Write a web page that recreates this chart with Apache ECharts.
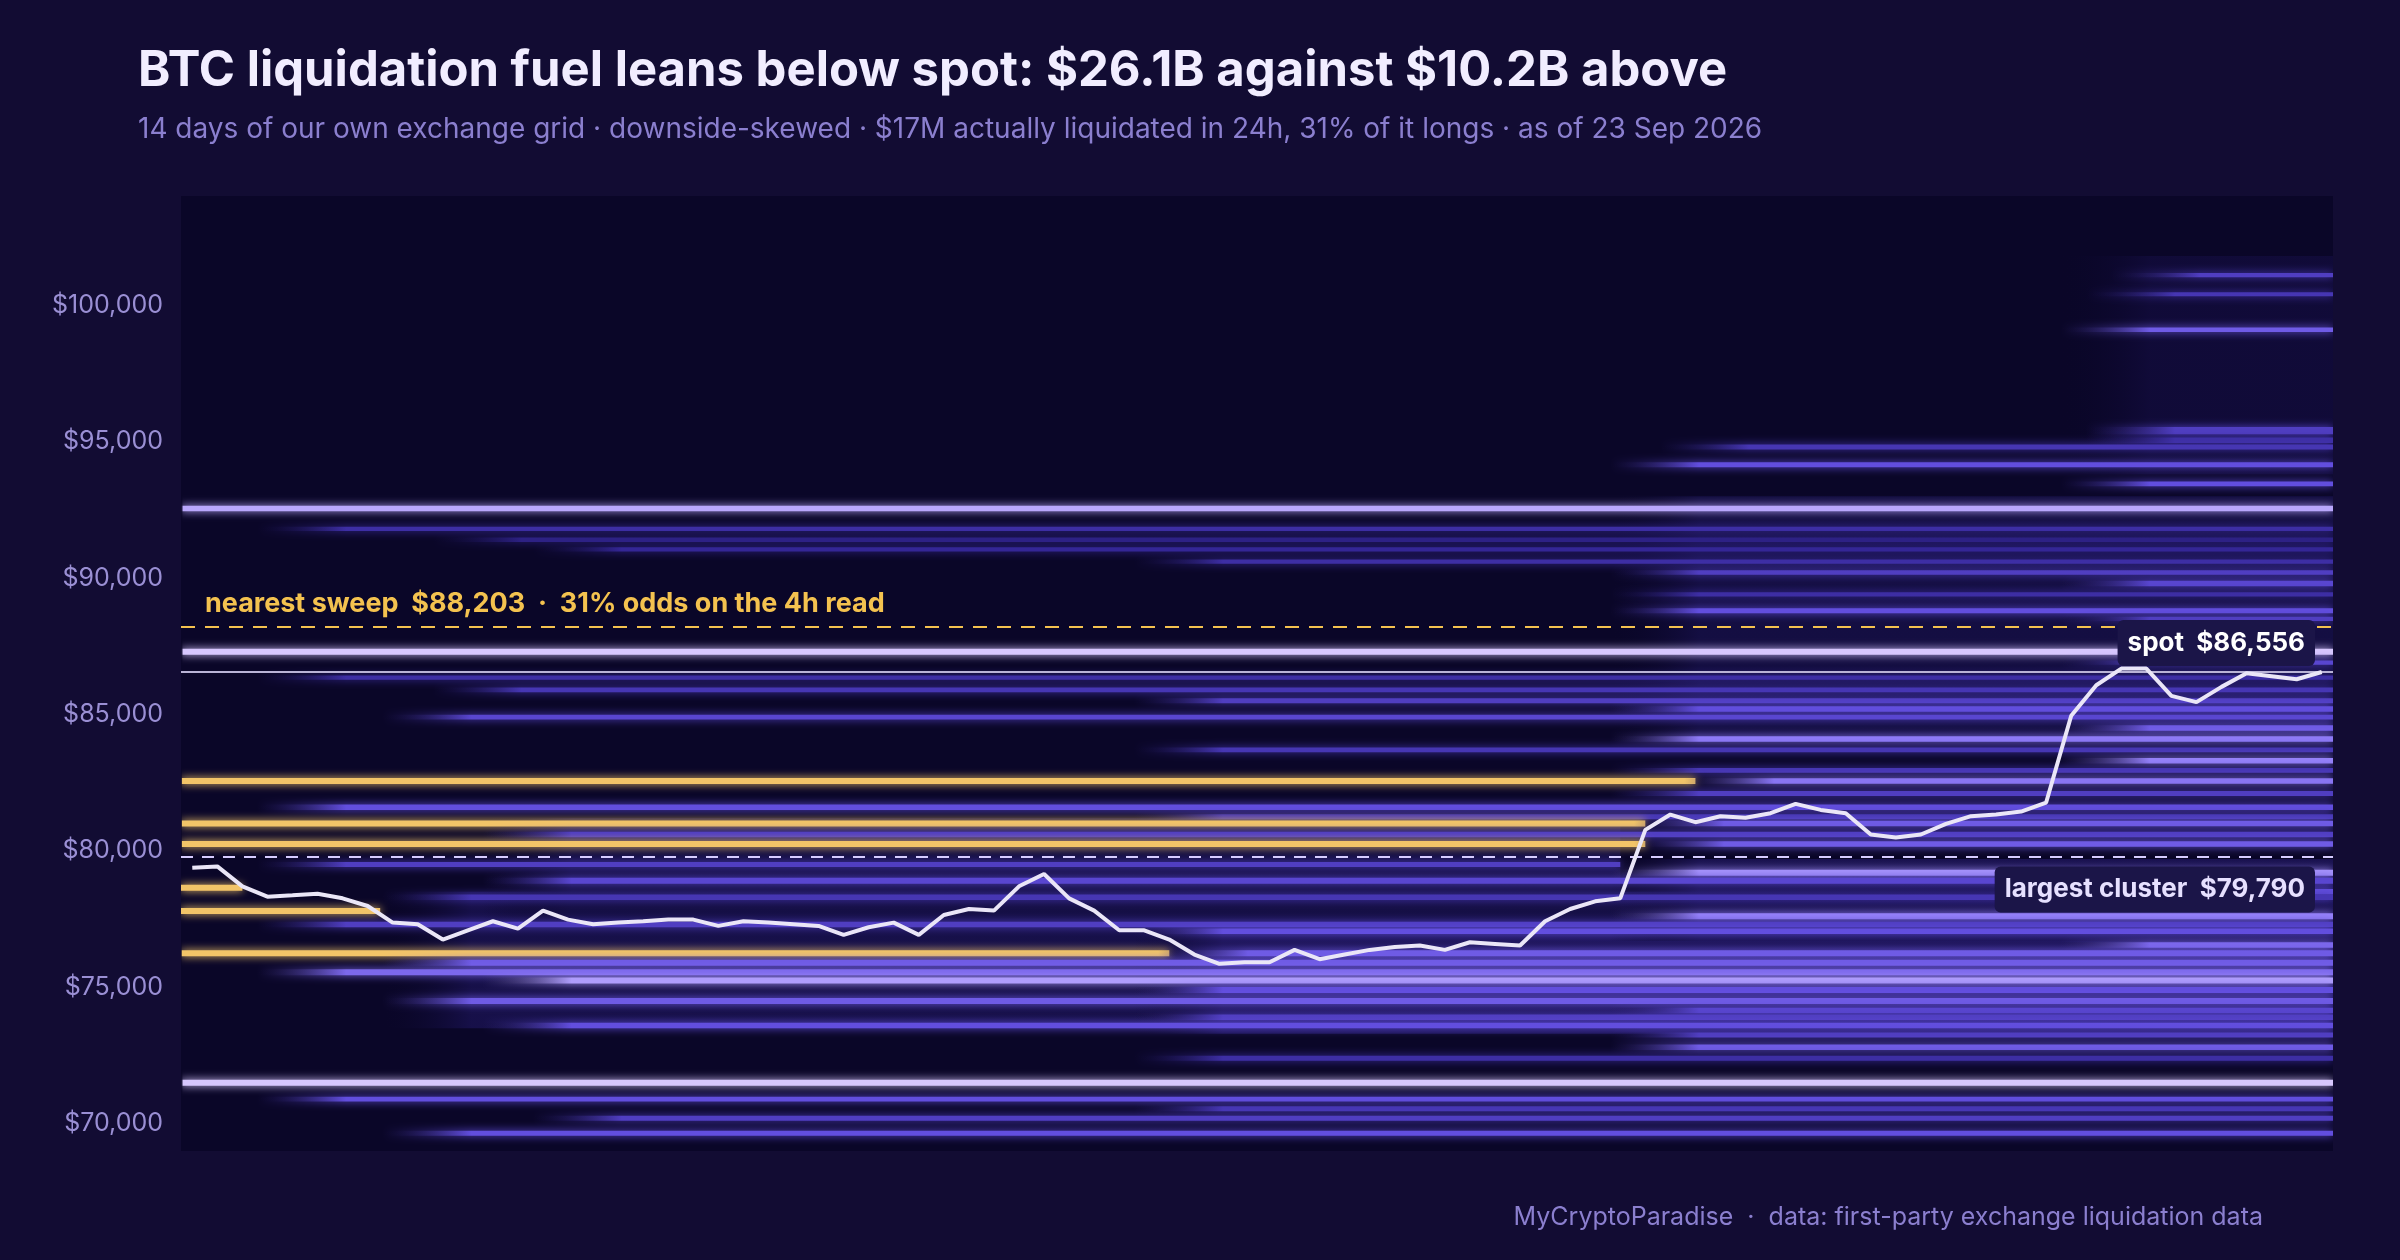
<!DOCTYPE html>
<html>
<head>
<meta charset="utf-8">
<script src="https://cdn.jsdelivr.net/npm/echarts@6/dist/echarts.min.js"></script>
<style>
  html, body { margin: 0; padding: 0; background: #120c33; }
  #chart { width: 2400px; height: 1260px; }
</style>
</head>
<body>
<div id="chart"></div>
<script>
// spot price every 4h over 14 days
var spotPrice = [79380, 79430, 78700, 78320, 78370, 78430, 78260, 77980, 77370, 77310,
  76750, 77090, 77420, 77150, 77810, 77480, 77310, 77370, 77420, 77480,
  77480, 77250, 77420, 77370, 77310, 77250, 76920, 77200, 77370, 76920,
  77650, 77870, 77810, 78700, 79150, 78260, 77810, 77090, 77090, 76750,
  76200, 75860, 75920, 75920, 76370, 76030, 76200, 76370, 76480, 76530,
  76370, 76650, 76590, 76530, 77420, 77870, 78150, 78260, 80770, 81330,
  81050, 81270, 81210, 81380, 81720, 81500, 81380, 80600, 80490, 80600,
  80990, 81270, 81330, 81440, 81770, 84950, 86070, 86680, 86680, 85680,
  85450, 86010, 86510, 86400, 86290, 86556];

// liquidation bands: [price, start index, end index, intensity (1 = hot), thickness in $]
// end 99 = runs to the right edge
var bands = [
  // haze
  [76000, 8, 99, 0.10, 5000], [75200, 38, 99, 0.14, 3800], [88500, 57, 99, 0.08, 9000],
  [97800, 75, 99, 0.05, 8000], [79200, 12, 57, 0.08, 4000], [78200, 57, 99, 0.12, 3000],
  // top
  [101100, 77, 99, 0.45, 150], [100400, 76, 99, 0.4, 150], [99100, 75, 99, 0.6, 160],
  [95400, 76, 99, 0.45, 260], [95050, 76, 99, 0.35, 200], [94800, 59, 99, 0.4, 180],
  [94150, 57, 99, 0.55, 180], [93450, 75, 99, 0.55, 180],
  [92550, 0, 99, 0.82, 200],
  [91800, 3, 99, 0.35, 160], [91400, 10, 99, 0.25, 160], [91050, 14, 99, 0.3, 160],
  [90600, 38, 99, 0.35, 160], [90200, 57, 99, 0.45, 160], [89800, 75, 99, 0.5, 200],
  [89400, 57, 99, 0.35, 160], [88800, 57, 99, 0.55, 180], [88500, 75, 99, 0.45, 160],
  [87300, 0, 99, 0.88, 220], [86900, 75, 99, 0.5, 160],
  [86350, 3, 99, 0.35, 150], [85900, 10, 99, 0.4, 180], [85500, 38, 99, 0.45, 180],
  [85200, 57, 99, 0.55, 200], [84900, 8, 99, 0.5, 180], [84500, 75, 99, 0.6, 200],
  [84100, 57, 99, 0.72, 200], [83700, 38, 99, 0.4, 180], [83300, 75, 99, 0.75, 200],
  [82950, 57, 99, 0.4, 180],
  [82560, 0, 60, 1, 220], [82560, 60, 99, 0.7, 200],
  [82100, 57, 99, 0.45, 180], [81600, 3, 99, 0.55, 200], [81250, 38, 99, 0.4, 180],
  [81000, 0, 58, 1, 220], [81000, 58, 99, 0.6, 200],
  [80600, 12, 99, 0.45, 200],
  [80250, 0, 58, 1, 220], [80250, 58, 99, 0.6, 200],
  [79200, 57, 99, 0.78, 220], [79500, 3, 57, 0.45, 180], [78900, 12, 99, 0.5, 220],
  [78650, 0, 2, 1, 220], [78500, 75, 99, 0.55, 200], [78300, 8, 99, 0.4, 200],
  [77800, 0, 7.5, 1, 220], [77600, 57, 99, 0.75, 220], [77300, 3, 99, 0.45, 200],
  [77050, 38, 99, 0.55, 200], [76550, 75, 99, 0.65, 200],
  [76250, 0, 39, 1, 220], [76250, 39, 99, 0.6, 220],
  [75900, 8, 99, 0.6, 220], [75550, 3, 99, 0.65, 220], [75250, 12, 99, 0.8, 220],
  [74900, 38, 99, 0.55, 220], [74500, 8, 99, 0.6, 220], [74150, 57, 99, 0.5, 200],
  [73900, 38, 99, 0.45, 200], [73600, 12, 99, 0.55, 200], [73250, 57, 99, 0.45, 180],
  [72800, 57, 99, 0.6, 200], [72400, 38, 99, 0.35, 180],
  [71500, 0, 99, 0.88, 220], [70900, 3, 99, 0.55, 180], [70550, 38, 99, 0.4, 180],
  [70200, 14, 99, 0.45, 180], [69650, 8, 99, 0.55, 180]
];

var yTicks = [70000, 75000, 80000, 85000, 90000, 95000, 100000];
var spotNow = 86556;
var nearestSweep = 88203;
var largestCluster = 79790;

var xMax = spotPrice.length - 1 + 0.45;

function bandColor(v) {
  if (v >= 1) return '#f2c468';
  var stops = [[0, [10, 6, 40]], [0.3, [52, 38, 150]], [0.55, [98, 78, 222]], [0.75, [150, 130, 250]], [0.9, [225, 210, 255]]];
  for (var i = 1; i < stops.length; i++) {
    if (v <= stops[i][0]) {
      var a = stops[i - 1], b = stops[i], t = (v - a[0]) / (b[0] - a[0]);
      return 'rgb(' + [0, 1, 2].map(function (k) { return Math.round(a[1][k] + (b[1][k] - a[1][k]) * t); }).join(',') + ')';
    }
  }
  return 'rgb(225,210,255)';
}

var bandData = bands.map(function (b) {
  return [b[1] - 0.45, Math.min(b[2], xMax), b[0], b[3], b[4]];
});

function renderBand(params, api) {
  var s = api.value(0), e = api.value(1), p = api.value(2), v = api.value(3), h = api.value(4);
  var a = api.coord([s, p + h / 2]), b = api.coord([e, p - h / 2]);
  var w = b[0] - a[0];
  var c = bandColor(v);
  var fade = Math.min(0.5, 90 / Math.max(w, 1));
  if (s < 0) fade = 0.001;
  return {
    type: 'rect',
    shape: { x: a[0], y: a[1], width: w, height: Math.max(1.5, b[1] - a[1]) },
    style: {
      fill: { type: 'linear', x: 0, y: 0, x2: 1, y2: 0,
        colorStops: [{ offset: 0, color: 'rgba(10,6,40,0)' }, { offset: fade, color: c }, { offset: 1, color: c }] },
      shadowBlur: h > 1000 ? 0 : 9,
      shadowColor: c,
      opacity: h > 1000 ? 0.9 : 1
    }
  };
}

var myChart = echarts.init(document.getElementById('chart'));
var option = {
  backgroundColor: '#120c33',
  animation: false,
  title: [
    { text: 'BTC liquidation fuel leans below spot: $26.1B against $10.2B above', left: 133, top: 42,
      textStyle: { color: '#f1edff', fontSize: 49, fontWeight: 'bold', fontFamily: 'Inter' } },
    { text: '14 days of our own exchange grid · downside-skewed · $17M actually liquidated in 24h, 31% of it longs · as of 23 Sep 2026',
      left: 133, top: 111, textStyle: { color: '#8b7fcf', fontSize: 28, fontWeight: 'normal', fontFamily: 'Inter' } },
    { text: 'MyCryptoParadise  ·  data: first-party exchange liquidation data', right: 132, top: 1200,
      textStyle: { color: '#8b7fcf', fontSize: 25, fontWeight: 'normal', fontFamily: 'Inter' } }
  ],
  grid: { left: 181, right: 67, top: 196, bottom: 109, show: true, backgroundColor: '#0a0628', borderWidth: 0 },
  xAxis: { type: 'value', min: -0.45, max: xMax, show: false },
  yAxis: {
    type: 'value', min: 69000, max: 104000, interval: 1000,
    axisLine: { show: false }, axisTick: { show: false }, splitLine: { show: false },
    axisLabel: { color: '#9a8fd4', fontSize: 25, fontFamily: 'Inter', margin: 18, showMinLabel: true, showMaxLabel: true,
      formatter: function (v) { return yTicks.indexOf(v) >= 0 ? '$' + v.toLocaleString('en-US') : ''; } }
  },
  series: [
    { type: 'custom', renderItem: renderBand, data: bandData, clip: true, silent: true },
    {
      type: 'line', data: spotPrice.map(function (v, i) { return [i, v]; }), symbol: 'none',
      lineStyle: { color: '#eae6f7', width: 4 }, z: 5,
      markLine: {
        symbol: 'none', silent: true,
        data: [
          { yAxis: nearestSweep, lineStyle: { color: '#f4c24f', type: [14, 10], width: 2 },
            label: { show: true, position: 'insideStartTop', distance: [24, 10], color: '#f4c24f', fontSize: 27, fontWeight: 'bold', fontFamily: 'Inter',
              formatter: 'nearest sweep  $88,203  ·  31% odds on the 4h read' } },
          { yAxis: spotNow, lineStyle: { color: '#b9b3d6', type: 'solid', width: 2 },
            label: { show: true, position: 'insideEndTop', distance: [18, 6], color: '#ffffff', fontSize: 26, fontWeight: 'bold', fontFamily: 'Inter',
              backgroundColor: '#1b1548', padding: [10, 10], borderRadius: 6, formatter: 'spot  $86,556' } },
          { yAxis: largestCluster, lineStyle: { color: '#d6ccff', type: [12, 9], width: 2 },
            label: { show: true, position: 'insideEndBottom', distance: [18, 10], color: '#e6e0ff', fontSize: 26, fontWeight: 'bold', fontFamily: 'Inter',
              backgroundColor: '#1b1548', padding: [10, 10], borderRadius: 6, formatter: 'largest cluster  $79,790' } }
        ]
      }
    }
  ]
};
myChart.setOption(option);
</script>
</body>
</html>
